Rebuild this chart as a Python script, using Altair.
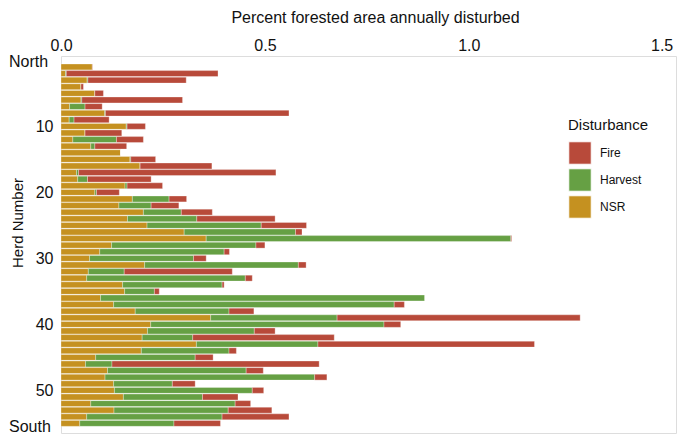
import altair as alt
import pandas as pd

herds = list(range(1, 56))
nsr = [0.077, 0.011, 0.064, 0.049, 0.083, 0.049, 0.021, 0.107, 0.020, 0.160,
       0.059, 0.029, 0.073, 0.146, 0.169, 0.194, 0.038, 0.041, 0.157, 0.083,
       0.175, 0.142, 0.202, 0.163, 0.211, 0.302, 0.356, 0.124, 0.095, 0.070,
       0.205, 0.067, 0.063, 0.151, 0.156, 0.097, 0.129, 0.182, 0.367, 0.220,
       0.212, 0.199, 0.332, 0.197, 0.085, 0.060, 0.114, 0.108, 0.129, 0.131,
       0.153, 0.073, 0.130, 0.063, 0.046]
harvest = [0.000, 0.002, 0.002, 0.000, 0.000, 0.002, 0.038, 0.002, 0.012, 0.002,
           0.000, 0.107, 0.010, 0.000, 0.002, 0.000, 0.005, 0.024, 0.005, 0.004,
           0.090, 0.079, 0.093, 0.170, 0.280, 0.273, 0.747, 0.354, 0.305, 0.255,
           0.377, 0.088, 0.389, 0.244, 0.073, 0.795, 0.688, 0.230, 0.310, 0.572,
           0.262, 0.124, 0.298, 0.215, 0.244, 0.065, 0.340, 0.514, 0.144, 0.338,
           0.194, 0.354, 0.280, 0.332, 0.231]
fire = [0.001, 0.372, 0.241, 0.006, 0.021, 0.247, 0.042, 0.450, 0.086, 0.045,
        0.090, 0.066, 0.078, 0.000, 0.061, 0.176, 0.484, 0.156, 0.087, 0.056,
        0.043, 0.068, 0.076, 0.192, 0.111, 0.016, 0.002, 0.022, 0.013, 0.031,
        0.019, 0.265, 0.017, 0.005, 0.012, 0.000, 0.025, 0.061, 0.596, 0.041,
        0.051, 0.347, 0.531, 0.018, 0.044, 0.508, 0.042, 0.030, 0.056, 0.028,
        0.087, 0.038, 0.107, 0.164, 0.114]

categories = ["Fire", "Harvest", "NSR"]
colors = ["#B84A3A", "#66A044", "#C59120"]
stack_rank = {"NSR": 0, "Harvest": 1, "Fire": 2}

y_ticks = [10, 20, 30, 40, 50]
x_ticks = [0.0, 0.5, 1.0, 1.5]
end_labels = ["North", "South"]
end_pos = [0.25, 55.55]

rows = []
for i, h in enumerate(herds):
    for cat, series in (("NSR", nsr), ("Harvest", harvest), ("Fire", fire)):
        rows.append({"herd": h, "Disturbance": cat, "value": series[i], "ord": stack_rank[cat]})
df = pd.DataFrame(rows)
ends = pd.DataFrame({"label": end_labels, "pos": end_pos})

yscale = alt.Scale(domain=[0.1, 55.7], reverse=True, nice=False, zero=False)
xscale = alt.Scale(domain=[0, 1.508], nice=False)

bars = alt.Chart(df).transform_stack(
    stack="value", groupby=["herd"], as_=["v0", "v1"],
    sort=[alt.SortField("ord", order="ascending")]
).mark_bar(orient="horizontal", size=5.9, stroke="white", strokeWidth=0.5, strokeOpacity=0.6).encode(
    x=alt.X("v0:Q", scale=xscale,
            axis=alt.Axis(orient="top", values=x_ticks, format=".1f", grid=False, ticks=False, tickSize=0,
                          domain=False, labelFontSize=16, labelPadding=6, labelBaseline="alphabetic",
                          labelFlush=False,
                          labelAlign={"condition": {"test": "datum.value >= 1.5", "value": "right"},
                                      "value": "center"},
                          labelColor="#111", title="Percent forested area annually disturbed",
                          titleFontSize=16, titleFontWeight="normal", titleColor="#111",
                          titleX=314, titleY=-34, titleBaseline="alphabetic", titleAlign="center")),
    x2="v1",
    y=alt.Y("herd:Q", scale=yscale,
            axis=alt.Axis(values=y_ticks, grid=False, ticks=False, tickSize=0, domain=False,
                          labelFontSize=16, labelPadding=8, labelColor="#111", labelFlush=False,
                          title="Herd Number", titleFontSize=15, titleFontWeight="normal", titleColor="#111",
                          titleX=-39, titleY=166.5, titleAngle=-90, titleBaseline="alphabetic",
                          titleAlign="center")),
    color=alt.Color("Disturbance:N", scale=alt.Scale(domain=categories, range=colors),
                    legend=alt.Legend(orient="none", legendX=507, legendY=62, title="Disturbance",
                                      titleFontSize=15, titleFontWeight="normal", titleColor="#111",
                                      titlePadding=8, labelFontSize=12, labelColor="#111",
                                      symbolType="square", symbolSize=500, symbolStrokeColor="white",
                                      symbolStrokeWidth=0.8, symbolOpacity=1, rowPadding=1,
                                      labelOffset=8)),
)

texts = alt.Chart(ends).mark_text(align="left", baseline="middle", fontSize=16, color="#111",
                                  font="Liberation Sans").encode(
    x=alt.value(-52),
    y=alt.Y("pos:Q", scale=yscale),
    text="label:N",
)

chart = alt.layer(bars, texts).properties(
    width=615, height=377,
    autosize=alt.AutoSizeParams(type="none"),
    padding={"left": 53, "top": 48, "right": 1, "bottom": 6},
).configure_view(
    stroke="#333", strokeWidth=1.2
).configure(
    font="Liberation Sans"
)

chart.save("out.html", embed_options={"renderer": "svg", "actions": False})
